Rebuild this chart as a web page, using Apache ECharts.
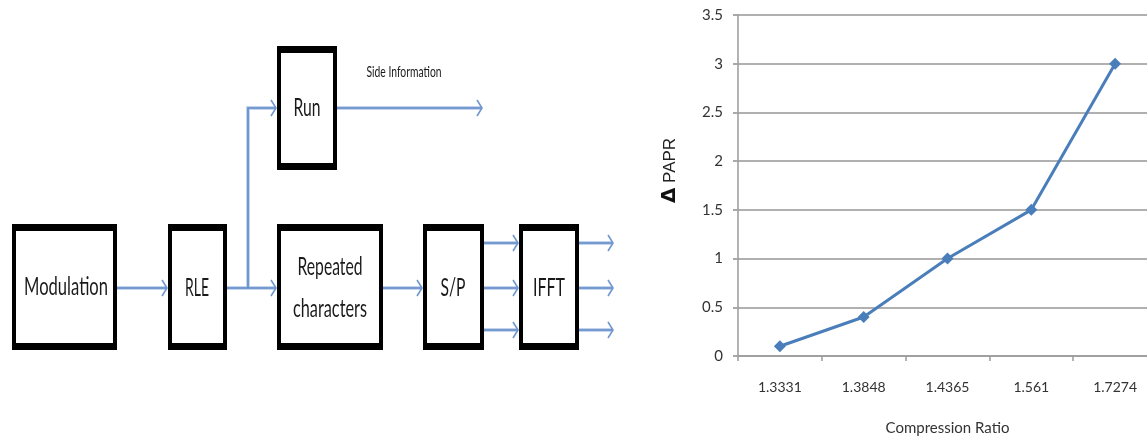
<!DOCTYPE html>
<html><head><meta charset="utf-8">
<script src="https://cdn.jsdelivr.net/npm/echarts@6/dist/echarts.min.js"></script>
<style>html,body{margin:0;padding:0;background:#fff}#c{width:1147px;height:439px}</style>
</head><body><div id="c"></div>
<script>
// ---- chart data ----
const categories = ['1.3331', '1.3848', '1.4365', '1.561', '1.7274'];
const deltaPAPR = [0.1, 0.4, 1.0, 1.5, 3.0];
const yMin = 0, yMax = 3.5, yStep = 0.5;
const xAxisName = 'Compression Ratio';
const yAxisDelta = 'Δ';
const yAxisName = 'PAPR';

// ---- diagram labels ----
const blockLabels = ['Modulation', 'RLE', 'Repeated characters', 'S/P', 'IFFT', 'Run'];
const sideLabel = 'Side Information';

// ---- diagram layout (positions kept separate from data) ----
const boxes = [
  { x0: 12, x1: 117, y0: 224, y1: 350 },
  { x0: 168, x1: 227, y0: 224, y1: 350 },
  { x0: 277, x1: 383, y0: 224, y1: 350 },
  { x0: 423, x1: 484, y0: 224, y1: 350 },
  { x0: 519, x1: 579, y0: 224, y1: 350 },
  { x0: 277, x1: 337, y0: 46, y1: 170 }
];
const textSpots = [
  [{ cx: 66, cy: 287, w: 84 }],
  [{ cx: 197, cy: 288, w: 24 }],
  [{ cx: 330, cy: 267, w: 65 }, { cx: 330, cy: 309, w: 74 }],
  [{ cx: 453, cy: 288, w: 25 }],
  [{ cx: 549, cy: 288, w: 32 }],
  [{ cx: 307, cy: 108, w: 27 }]
];
const arrows = [
  [[117, 288], [167, 288]],
  [[227, 288], [276, 288]],
  [[248, 288], [248, 108], [276, 108]],
  [[337, 108], [482, 108]],
  [[383, 288], [422, 288]],
  [[484, 243], [518, 243]], [[484, 288], [518, 288]], [[484, 330], [518, 330]],
  [[579, 243], [613, 243]], [[579, 288], [613, 288]], [[579, 330], [613, 330]]
];

const FONT = 'Lato, "Liberation Sans", sans-serif';
const mctx = document.createElement('canvas').getContext('2d');
function fitText(str, cx, cy, targetW, size) {
  const font = size + 'px ' + FONT;
  mctx.font = font;
  const w = mctx.measureText(str).width || 1;
  return {
    type: 'text', x: cx, y: cy, scaleX: targetW / w, scaleY: 1, z: 10,
    style: { text: str, font: font, fill: '#1a1a1a', align: 'center', verticalAlign: 'middle',
             textAlign: 'center', textVerticalAlign: 'middle' }
  };
}

const graphics = [];
boxes.forEach(function (b, i) {
  graphics.push({ type: 'rect', z: 5, shape: { x: b.x0, y: b.y0, width: b.x1 - b.x0, height: b.y1 - b.y0 },
    style: { fill: '#000' } });
  graphics.push({ type: 'rect', z: 6, shape: { x: b.x0 + 4, y: b.y0 + 7, width: b.x1 - b.x0 - 8, height: b.y1 - b.y0 - 14 },
    style: { fill: '#fff' } });
  const parts = blockLabels[i].split(' ');
  const spots = textSpots[i];
  if (spots.length === 2) {
    graphics.push(fitText(parts[0], spots[0].cx, spots[0].cy, spots[0].w, 25));
    graphics.push(fitText(parts.slice(1).join(' '), spots[1].cx, spots[1].cy, spots[1].w, 25));
  } else {
    graphics.push(fitText(blockLabels[i], spots[0].cx, spots[0].cy, spots[0].w, 25));
  }
});
graphics.push(fitText(sideLabel, 404, 72, 75, 15));

arrows.forEach(function (pts) {
  graphics.push({ type: 'polyline', z: 3, shape: { points: pts }, style: { stroke: '#c3d4ec', lineWidth: 4, fill: null } });
  graphics.push({ type: 'polyline', z: 4, shape: { points: pts }, style: { stroke: '#5b87c6', lineWidth: 1.6, fill: null } });
  const e = pts[pts.length - 1];
  const head = [[e[0] - 5, e[1] - 8], [e[0], e[1]], [e[0] - 5, e[1] + 8]];
  graphics.push({ type: 'polyline', z: 4, shape: { points: head }, style: { stroke: '#6f97cf', lineWidth: 1.6, fill: null } });
});

const chart = echarts.init(document.getElementById('c'), null, { renderer: 'canvas' });
chart.setOption({
  animation: false,
  backgroundColor: '#fff',
  graphic: { elements: graphics },
  grid: { left: 738, top: 15, width: 419, height: 341, containLabel: false, outerBoundsMode: 'none' },
  xAxis: {
    type: 'category', data: categories, boundaryGap: true,
    name: xAxisName, nameLocation: 'middle', nameGap: 65,
    nameTextStyle: { fontFamily: FONT, fontSize: 15, color: '#333' },
    axisLine: { lineStyle: { color: '#9a9a9a', width: 1.5 } },
    axisTick: { show: true, length: 5, lineStyle: { color: '#9a9a9a', width: 1.5 } },
    axisLabel: { margin: 24, fontFamily: FONT, fontSize: 14, color: '#333' },
    splitLine: { show: false }
  },
  yAxis: {
    type: 'value', min: yMin, max: yMax, interval: yStep,
    name: '{d|' + yAxisDelta + '}{p| ' + yAxisName + '}', nameLocation: 'middle', nameGap: 58, nameRotate: 90,
    nameTextStyle: { padding: [0, 0, 0, 30], rich: {
      d: { fontFamily: 'DejaVu Sans', fontSize: 20, fontWeight: 'bold', color: '#111' },
      p: { fontFamily: '"Liberation Sans", Arial, sans-serif', fontSize: 17, color: '#222' } } },
    axisLine: { show: true, lineStyle: { color: '#9a9a9a', width: 1.5 } },
    axisTick: { show: true, length: 5, lineStyle: { color: '#a8a8a8', width: 2 } },
    axisLabel: { margin: 15, fontFamily: FONT, fontSize: 15, color: '#333' },
    splitLine: { show: true, lineStyle: { color: '#b0b0b0', width: 2 } }
  },
  series: [{
    type: 'line', data: deltaPAPR,
    lineStyle: { color: '#4a7ebb', width: 3 },
    itemStyle: { color: '#4a7ebb' },
    symbol: 'diamond', symbolSize: 12, showSymbol: true
  }]
});
</script>
</body></html>
